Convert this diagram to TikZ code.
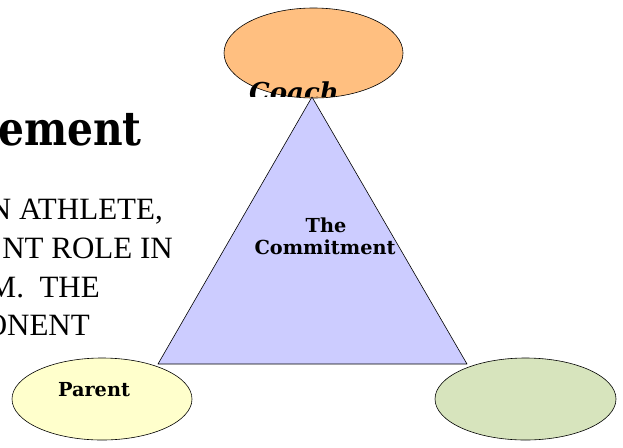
\documentclass[tikz,border=0pt]{standalone}
\usepackage{fontspec}
\setmainfont{Liberation Serif}
\newfontfamily\heavy{DejaVu Serif}
\newfontfamily\timesfont{Liberation Serif}
\usetikzlibrary{shapes.geometric}
\definecolor{coachfill}{HTML}{FFBF80}
\definecolor{trifill}{HTML}{CCCCFF}
\definecolor{parentfill}{HTML}{FFFFCC}
\definecolor{greenfill}{HTML}{D7E4BD}
\begin{document}
\begin{tikzpicture}[x=1pt,y=-1pt,
  oval/.style={ellipse,draw=black,line width=0.6pt,inner sep=0pt},
  bodytext/.style={font=\timesfont\fontsize{31}{31}\selectfont,inner sep=0pt,anchor=base east},
  heavylabel/.style={font=\heavy\bfseries\fontsize{19.3}{22}\selectfont,inner sep=0pt,anchor=base}]
\useasboundingbox (0,0) rectangle (623,447);
\begin{scope}
\clip (0,0) rectangle (623,447);
% title fragment
\node[anchor=base west,inner sep=0pt] (title) at (-2,145)
  {\scalebox{1.02}[1.18]{\heavy\bfseries\fontsize{40}{40}\selectfont ement}};
% body text fragments
\node[bodytext] (l1) at (163,219) {N ATHLETE,};
\node[bodytext] (l2) at (173,258) {NT ROLE IN};
\node[bodytext] (l3) at (100,297) {M.\ \ THE};
\node[bodytext] (l4) at (90,335) {ONENT};
% coach
\node[oval,fill=coachfill,minimum width=179pt,minimum height=90pt] (coach) at (313.5,53) {};
\begin{scope}
\clip (200,0) rectangle (420,96);
\node[font=\heavy\bfseries\itshape\fontsize{26}{26}\selectfont,anchor=base,inner sep=0pt] (coachlabel) at (294,101) {Coach};
\end{scope}
% triangle
\coordinate (apex) at (312,97);
\coordinate (bl) at (158,364);
\coordinate (br) at (467,364);
\draw[fill=trifill,line width=0.6pt,line join=round] (apex) -- (bl) -- (br) -- cycle;
\node[heavylabel] (the) at (326,232) {The};
\node[heavylabel] (commitment) at (325,254) {Commitment};
% bottom ellipses
\node[oval,fill=parentfill,minimum width=180pt,minimum height=82pt] (parent) at (102,399) {};
\node[heavylabel] (parentlabel) at (94,396) {Parent};
\node[oval,fill=greenfill,minimum width=181pt,minimum height=82pt] (athlete) at (525.5,399) {};
\end{scope}
\end{tikzpicture}
\end{document}
